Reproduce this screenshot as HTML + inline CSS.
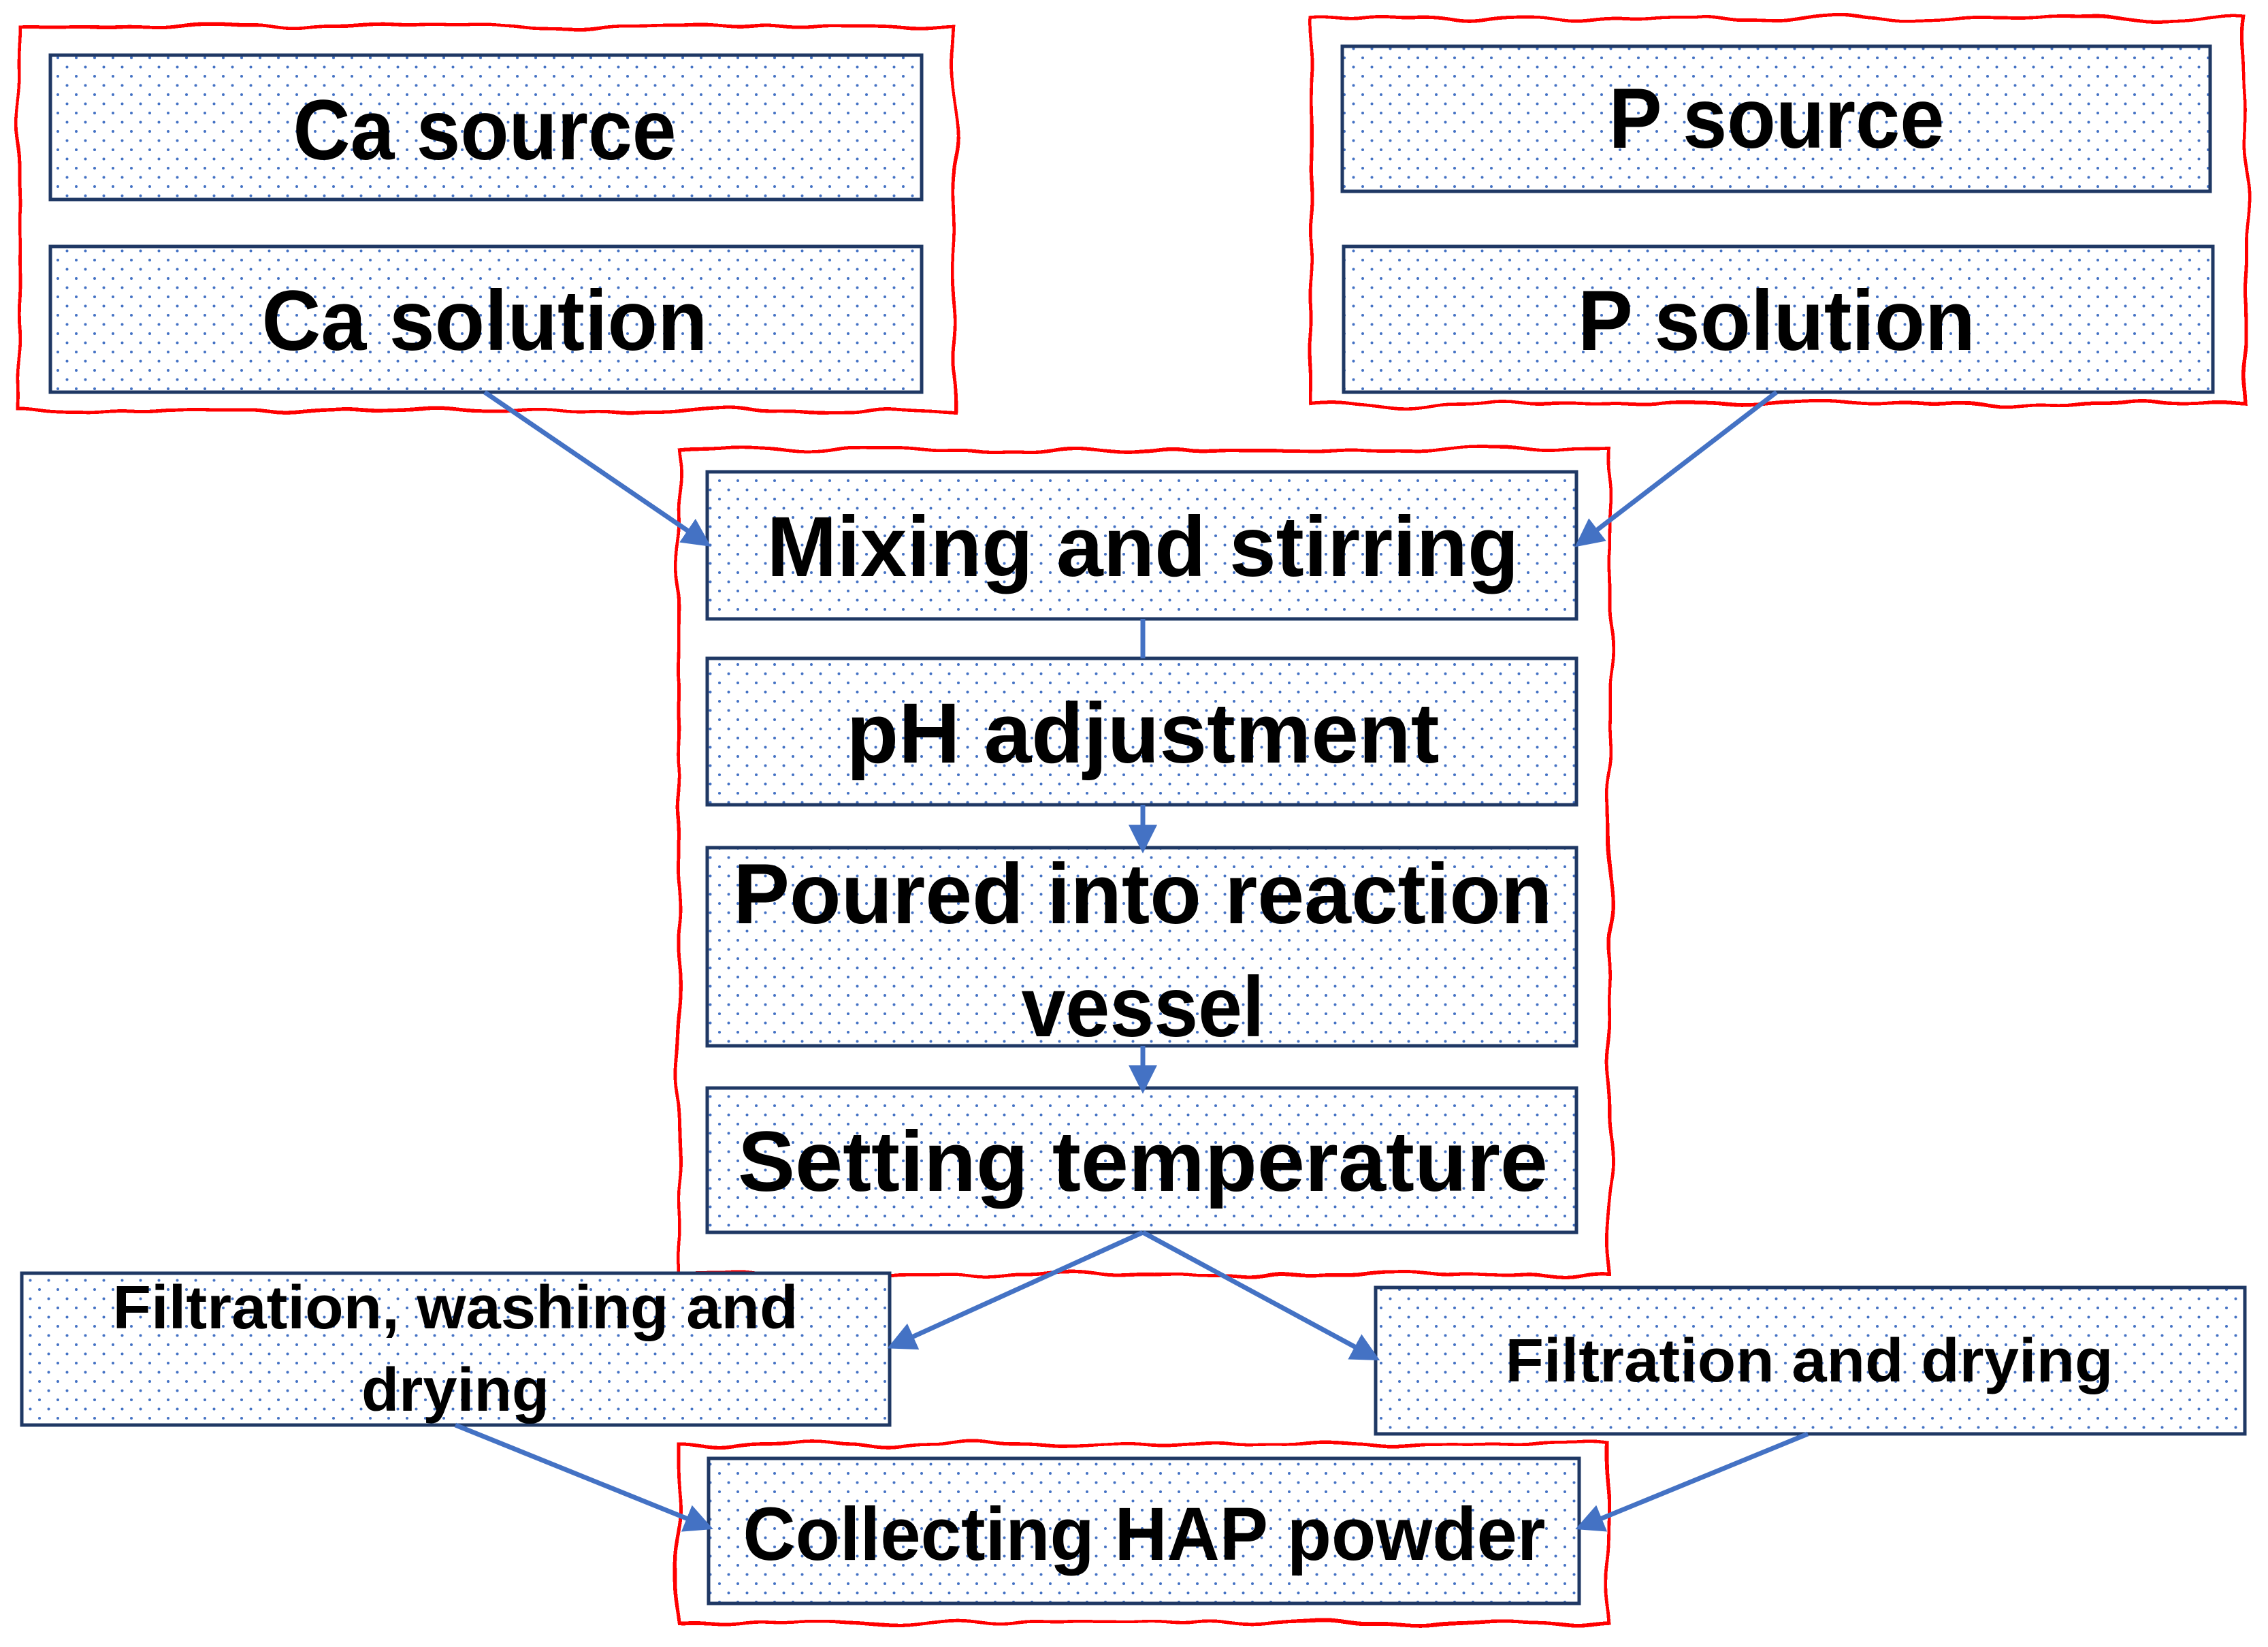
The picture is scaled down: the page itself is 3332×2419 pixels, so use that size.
<!DOCTYPE html>
<html><head><meta charset="utf-8"><style>html,body{margin:0;padding:0;background:#fff}svg{display:block}</style></head>
<body>
<svg width="3332" height="2419" viewBox="0 0 3332 2419" xmlns="http://www.w3.org/2000/svg">
<defs>
<pattern id="dots" width="27" height="27" patternUnits="userSpaceOnUse">
<rect width="27" height="27" fill="#fff"/>
<circle cx="4" cy="4" r="2" fill="#4472C4"/>
<circle cx="17.5" cy="17.5" r="2" fill="#4472C4"/>
</pattern>
<filter id="wob" x="-5%" y="-5%" width="110%" height="110%">
<feTurbulence type="fractalNoise" baseFrequency="0.008" numOctaves="2" seed="3"/>
<feDisplacementMap in="SourceGraphic" scale="22"/>
</filter>
<marker id="ah" markerWidth="6" markerHeight="6" refX="4.5" refY="3" orient="auto" markerUnits="strokeWidth">
<path d="M0,0 L6,3 L0,6 Z" fill="#4472C4"/>
</marker>
</defs>

<g fill="none" stroke="#FF0000" stroke-width="5" filter="url(#wob)">
<rect x="30" y="40" width="1372" height="564"/>
<rect x="1927" y="28" width="1373" height="566"/>
<rect x="997" y="660" width="1368" height="1212"/>
<rect x="997" y="2121" width="1366" height="262"/>
</g>

<g fill="url(#dots)" stroke="#1F3864" stroke-width="5">
<rect x="74" y="81" width="1280" height="212"/>
<rect x="74" y="362" width="1280" height="214"/>
<rect x="1972" y="68" width="1275" height="213"/>
<rect x="1974" y="362" width="1277" height="214"/>
<rect x="1039" y="693" width="1277" height="216"/>
<rect x="1039" y="967" width="1277" height="215"/>
<rect x="1039" y="1245" width="1277" height="291"/>
<rect x="1039" y="1598" width="1277" height="212"/>
<rect x="32" y="1870" width="1275" height="223"/>
<rect x="2021" y="1891" width="1277" height="215"/>
<rect x="1041" y="2142" width="1279" height="213"/>
</g>

<g stroke="#4472C4" stroke-width="7" fill="none">
<line x1="712" y1="576" x2="1036" y2="797" marker-end="url(#ah)"/>
<line x1="2610" y1="576" x2="2322" y2="797" marker-end="url(#ah)"/>
<line x1="1679" y1="909" x2="1679" y2="967"/>
<line x1="1679" y1="1182" x2="1679" y2="1243" marker-end="url(#ah)"/>
<line x1="1679" y1="1536" x2="1679" y2="1596" marker-end="url(#ah)"/>
<line x1="1679" y1="1810" x2="1313" y2="1976" marker-end="url(#ah)"/>
<line x1="1679" y1="1810" x2="2018" y2="1993" marker-end="url(#ah)"/>
<line x1="669" y1="2093" x2="1038" y2="2242" marker-end="url(#ah)"/>
<line x1="2656" y1="2106" x2="2324" y2="2242" marker-end="url(#ah)"/>
</g>

<g font-family="Liberation Sans, sans-serif" font-weight="bold" fill="#000" text-anchor="middle" lengthAdjust="spacingAndGlyphs">
<text x="712" y="234" font-size="125" textLength="563" lengthAdjust="spacingAndGlyphs">Ca source</text>
<text x="712" y="514" font-size="125" textLength="655" lengthAdjust="spacingAndGlyphs">Ca solution</text>
<text x="2610" y="217" font-size="125" textLength="493" lengthAdjust="spacingAndGlyphs">P source</text>
<text x="2610" y="514" font-size="125" textLength="584" lengthAdjust="spacingAndGlyphs">P solution</text>
<text x="1679" y="846" font-size="125" textLength="1105" lengthAdjust="spacingAndGlyphs">Mixing and stirring</text>
<text x="1679" y="1120" font-size="125" textLength="871" lengthAdjust="spacingAndGlyphs">pH adjustment</text>
<text x="1679" y="1356" font-size="125" textLength="1203" lengthAdjust="spacingAndGlyphs">Poured into reaction</text>
<text x="1679" y="1522" font-size="125" textLength="357" lengthAdjust="spacingAndGlyphs">vessel</text>
<text x="1679" y="1749" font-size="125" textLength="1190" lengthAdjust="spacingAndGlyphs">Setting temperature</text>
<text x="669" y="1951" font-size="90" textLength="1007" lengthAdjust="spacingAndGlyphs">Filtration, washing and</text>
<text x="669" y="2072" font-size="90" textLength="276" lengthAdjust="spacingAndGlyphs">drying</text>
<text x="2658" y="2029" font-size="90" textLength="893" lengthAdjust="spacingAndGlyphs">Filtration and drying</text>
<text x="1681" y="2291" font-size="110" textLength="1179" lengthAdjust="spacingAndGlyphs">Collecting HAP powder</text>
</g>
</svg>
</body></html>
